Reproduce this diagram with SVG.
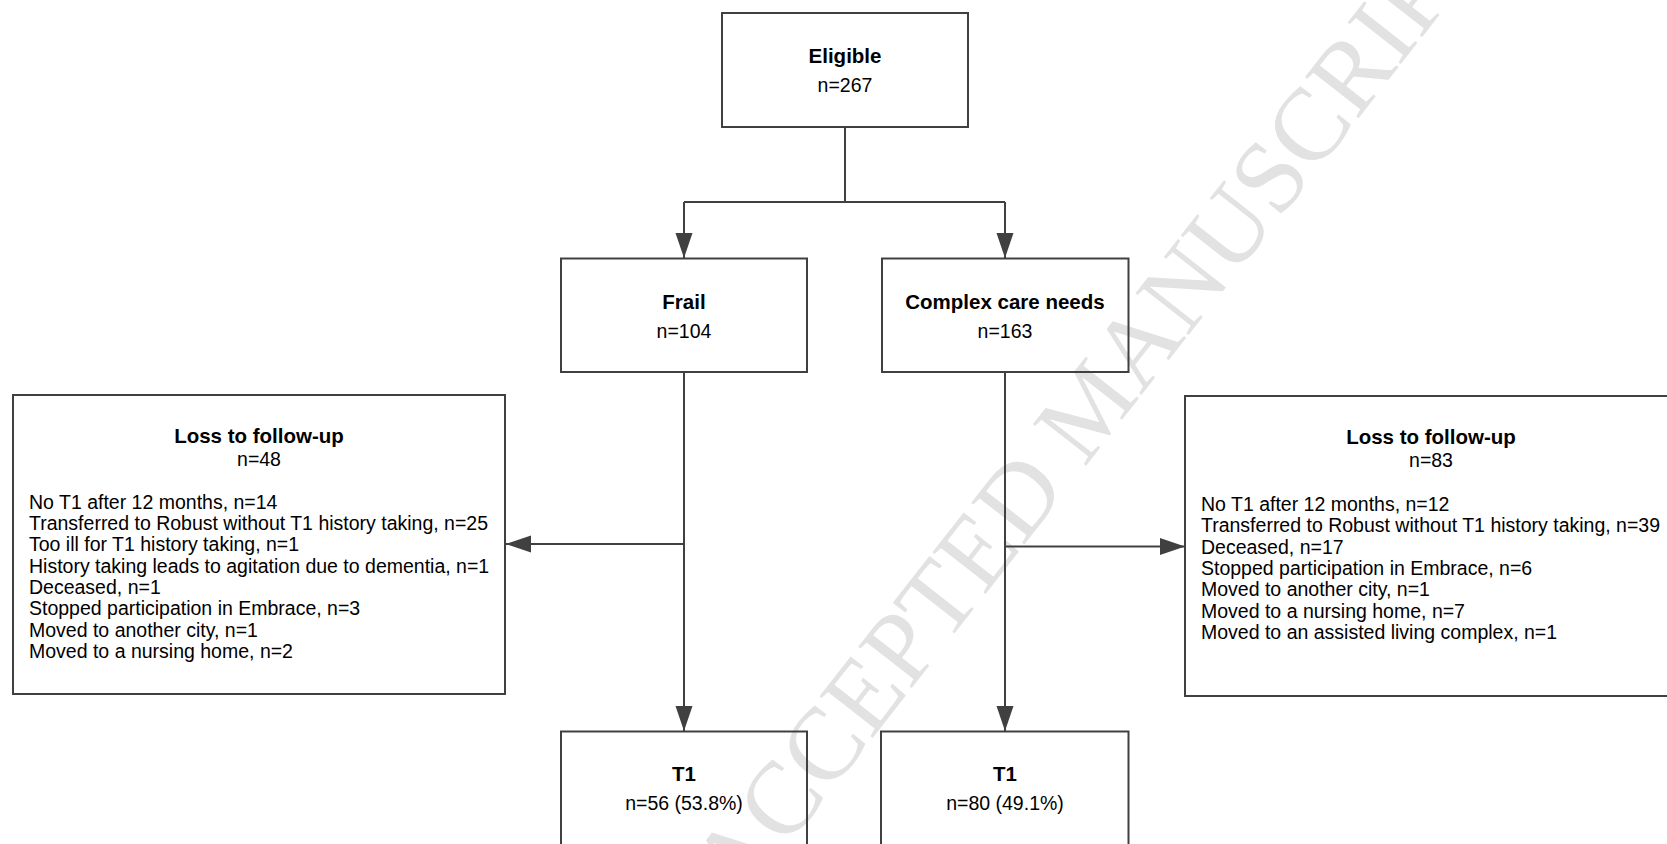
<svg xmlns="http://www.w3.org/2000/svg" width="1667" height="844" viewBox="0 0 1667 844">
<defs>
<style>
.box{fill:none;stroke:#404040;stroke-width:2}
.ln{fill:none;stroke:#404040;stroke-width:2}
.t{font-family:"Liberation Sans",Arial,sans-serif;font-size:20.5px;font-weight:bold;fill:#000;text-anchor:middle}
.n{font-family:"Liberation Sans",Arial,sans-serif;font-size:19.5px;fill:#000;text-anchor:middle}
.l{font-family:"Liberation Sans",Arial,sans-serif;font-size:19.5px;fill:#000}
.wm{font-family:"Liberation Serif","Times New Roman",serif;font-size:103px;fill:#e2e2e2}
</style>
<marker id="ah" markerUnits="userSpaceOnUse" markerWidth="26" markerHeight="18" refX="25" refY="8.5" orient="auto">
<path d="M0,0 L25,8.5 L0,17 Z" fill="#404040"/>
</marker>
</defs>
<rect width="1667" height="844" fill="#fff"/>
<text class="wm" transform="translate(740,907) rotate(-51.9)">ACCEPTED MANUSCRIPT</text>

<g id="connectors">
<path class="ln" d="M845,127 V202"/>
<path class="ln" d="M684,202 H1005"/>
<path class="ln" d="M684,202 V258" marker-end="url(#ah)"/>
<path class="ln" d="M1005,202 V258" marker-end="url(#ah)"/>
<path class="ln" d="M684,372 V731" marker-end="url(#ah)"/>
<path class="ln" d="M684,544 H506" marker-end="url(#ah)"/>
<path class="ln" d="M1005,372 V731" marker-end="url(#ah)"/>
<path class="ln" d="M1005,546.5 H1185" marker-end="url(#ah)"/>
</g>

<g id="eligible">
<rect class="box" x="722" y="13" width="246" height="114"/>
<text class="t" x="845" y="63">Eligible</text>
<text class="n" x="845" y="92">n=267</text>
</g>

<g id="frail">
<rect class="box" x="561" y="258.5" width="246" height="113.5"/>
<text class="t" x="684" y="308.5">Frail</text>
<text class="n" x="684" y="337.5">n=104</text>
</g>

<g id="complex">
<rect class="box" x="882" y="258.5" width="246.5" height="113.5"/>
<text class="t" x="1005" y="308.5">Complex care needs</text>
<text class="n" x="1005" y="337.5">n=163</text>
</g>

<g id="loss-frail">
<rect class="box" x="13" y="395" width="492" height="299"/>
<text class="t" x="259" y="443">Loss to follow-up</text>
<text class="n" x="259" y="466">n=48</text>
<text class="l" x="29" y="508.5">No T1 after 12 months, n=14</text>
<text class="l" x="29" y="529.9">Transferred to Robust without T1 history taking, n=25</text>
<text class="l" x="29" y="551.2">Too ill for T1 history taking, n=1</text>
<text class="l" x="29" y="572.6">History taking leads to agitation due to dementia, n=1</text>
<text class="l" x="29" y="593.9">Deceased, n=1</text>
<text class="l" x="29" y="615.3">Stopped participation in Embrace, n=3</text>
<text class="l" x="29" y="636.6">Moved to another city, n=1</text>
<text class="l" x="29" y="658">Moved to a nursing home, n=2</text>
</g>

<g id="loss-complex">
<rect class="box" x="1185" y="396" width="492" height="300"/>
<text class="t" x="1431" y="443.5">Loss to follow-up</text>
<text class="n" x="1431" y="466.5">n=83</text>
<text class="l" x="1201" y="511">No T1 after 12 months, n=12</text>
<text class="l" x="1201" y="532.4">Transferred to Robust without T1 history taking, n=39</text>
<text class="l" x="1201" y="553.7">Deceased, n=17</text>
<text class="l" x="1201" y="575.1">Stopped participation in Embrace, n=6</text>
<text class="l" x="1201" y="596.4">Moved to another city, n=1</text>
<text class="l" x="1201" y="617.8">Moved to a nursing home, n=7</text>
<text class="l" x="1201" y="639.1">Moved to an assisted living complex, n=1</text>
</g>

<g id="t1-frail">
<rect class="box" x="561" y="731.5" width="246" height="140"/>
<text class="t" x="684" y="781">T1</text>
<text class="n" x="684" y="810">n=56 (53.8%)</text>
</g>

<g id="t1-complex">
<rect class="box" x="881" y="731.5" width="247.5" height="140"/>
<text class="t" x="1005" y="781">T1</text>
<text class="n" x="1005" y="810">n=80 (49.1%)</text>
</g>
</svg>
